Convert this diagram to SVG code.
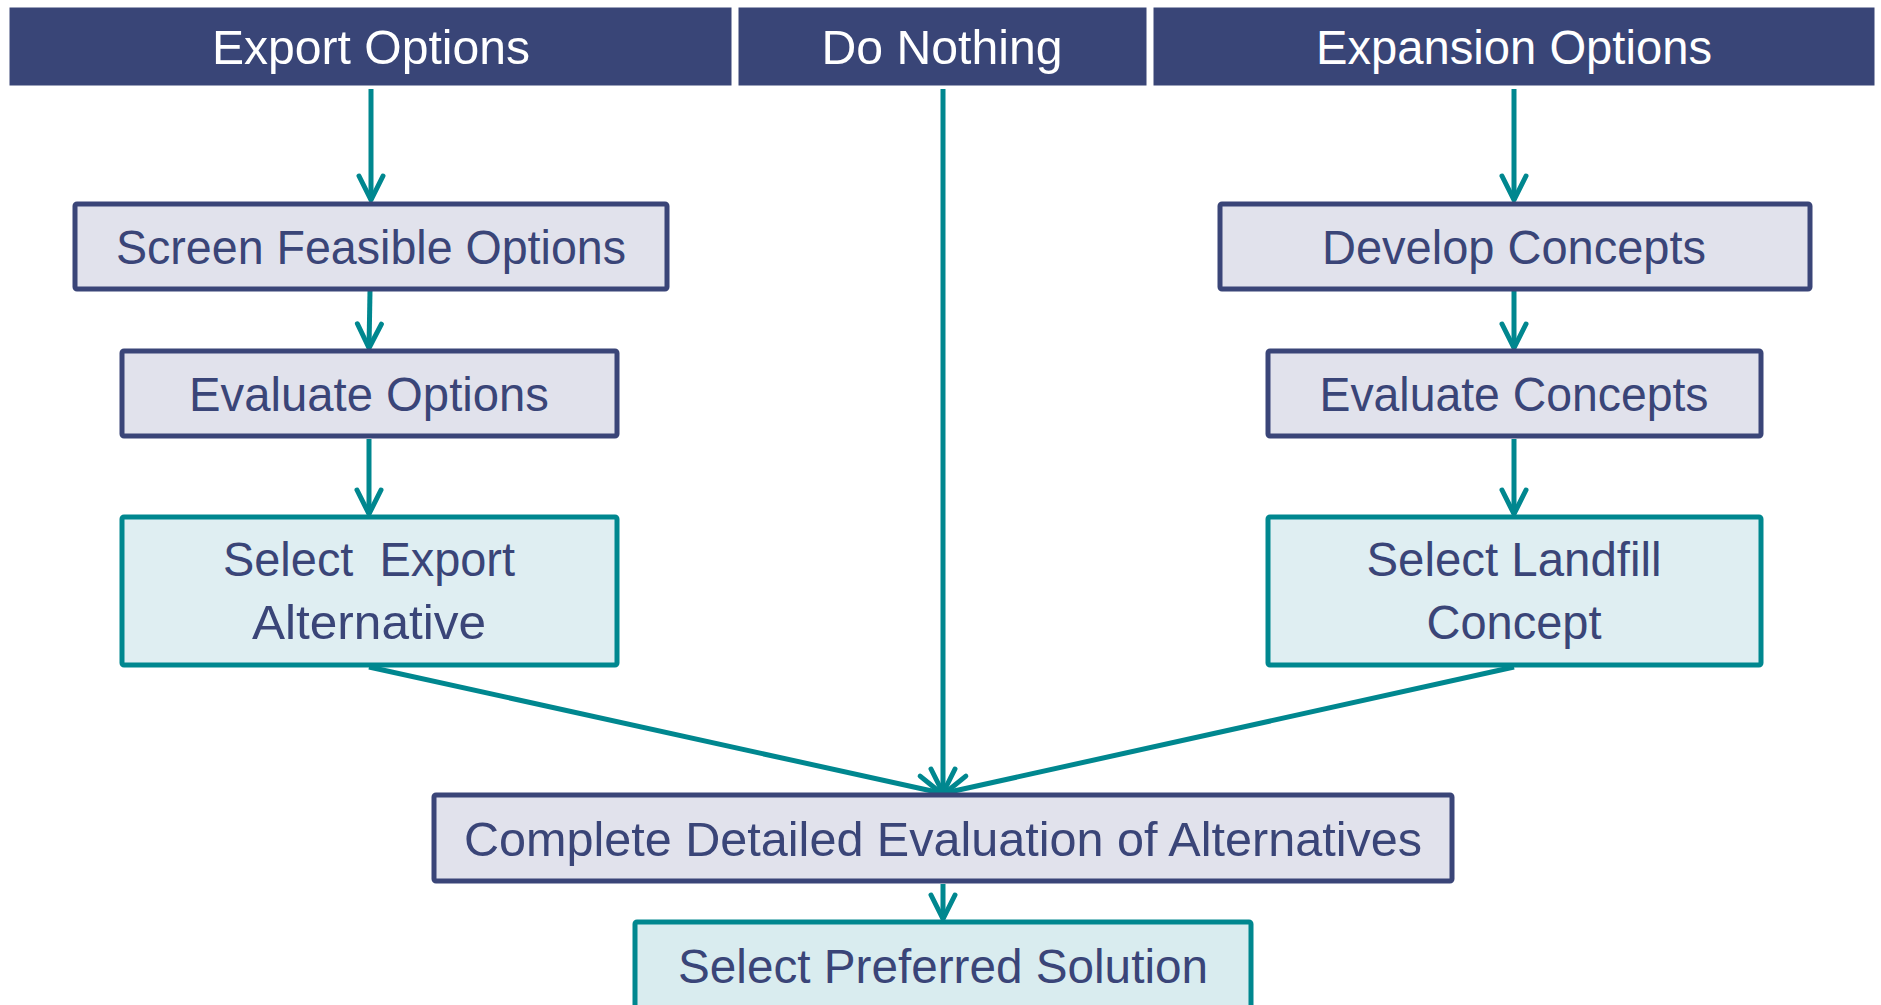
<svg xmlns="http://www.w3.org/2000/svg" width="1881" height="1005" viewBox="0 0 1881 1005">
<style>
.hdr{fill:#394577;stroke:#ffffff;stroke-width:1}
.ht{fill:#ffffff;font-family:"Liberation Sans",Arial,sans-serif;font-size:48px;text-anchor:middle}
.proc{fill:#E1E2EC;stroke:#3A4578;stroke-width:5}
.sel{fill:#DFEEF2;stroke:#00878F;stroke-width:5}
.nt{fill:#3A4578;font-family:"Liberation Sans",Arial,sans-serif;font-size:48px;text-anchor:middle}
.conn{stroke:#00878F;stroke-width:5;fill:none;marker-end:url(#arr)}
</style>
<defs>
<marker id="arr" markerUnits="userSpaceOnUse" markerWidth="40" markerHeight="40" refX="0" refY="0" orient="auto" overflow="visible">
<path d="M -24 -12 L 0 0 L -24 12" fill="none" stroke="#00878F" stroke-width="5" stroke-linecap="round" stroke-linejoin="round"/>
</marker>
</defs>
<rect width="1881" height="1005" fill="#ffffff"/>
<g id="hdr-export"><rect class="hdr" x="9" y="7" width="723" height="79"/><text class="ht" x="371" y="64" textLength="318" lengthAdjust="spacingAndGlyphs">Export Options</text></g>
<g id="hdr-nothing"><rect class="hdr" x="738" y="7" width="409" height="79"/><text class="ht" x="942" y="64" textLength="241" lengthAdjust="spacingAndGlyphs">Do Nothing</text></g>
<g id="hdr-expansion"><rect class="hdr" x="1153" y="7" width="722" height="79"/><text class="ht" x="1514" y="64" textLength="396" lengthAdjust="spacingAndGlyphs">Expansion Options</text></g>
<g id="connectors">
<line class="conn" x1="371" y1="89" x2="371" y2="200"/>
<line class="conn" x1="370" y1="291" x2="369" y2="348"/>
<line class="conn" x1="369" y1="439" x2="369" y2="514"/>
<line class="conn" x1="943" y1="89" x2="943" y2="793"/>
<line class="conn" x1="1514" y1="89" x2="1514" y2="200"/>
<line class="conn" x1="1514" y1="291" x2="1514" y2="348"/>
<line class="conn" x1="1514" y1="439" x2="1514" y2="514"/>
<line class="conn" x1="369" y1="667" x2="941" y2="793"/>
<line class="conn" x1="1514" y1="667" x2="945" y2="793"/>
<line class="conn" x1="943" y1="884" x2="943" y2="919"/>
</g>
<g id="n-screen"><rect class="proc" x="75" y="204" width="592" height="85" rx="2"/><text class="nt" x="371" y="264" textLength="510" lengthAdjust="spacingAndGlyphs">Screen Feasible Options</text></g>
<g id="n-evalopt"><rect class="proc" x="122" y="351" width="495" height="85" rx="2"/><text class="nt" x="369" y="411" textLength="360" lengthAdjust="spacingAndGlyphs">Evaluate Options</text></g>
<g id="n-selexport"><rect class="sel" x="122" y="517" width="495" height="148" rx="2"/><text class="nt" x="369" y="576" textLength="292" lengthAdjust="spacingAndGlyphs" xml:space="preserve">Select  Export</text><text class="nt" x="369" y="639" textLength="234" lengthAdjust="spacingAndGlyphs">Alternative</text></g>
<g id="n-develop"><rect class="proc" x="1220" y="204" width="590" height="85" rx="2"/><text class="nt" x="1514" y="264" textLength="384" lengthAdjust="spacingAndGlyphs">Develop Concepts</text></g>
<g id="n-evalcon"><rect class="proc" x="1268" y="351" width="493" height="85" rx="2"/><text class="nt" x="1514" y="411" textLength="389" lengthAdjust="spacingAndGlyphs">Evaluate Concepts</text></g>
<g id="n-sellandfill"><rect class="sel" x="1268" y="517" width="493" height="148" rx="2"/><text class="nt" x="1514" y="576" textLength="295" lengthAdjust="spacingAndGlyphs">Select Landfill</text><text class="nt" x="1514" y="639" textLength="175" lengthAdjust="spacingAndGlyphs">Concept</text></g>
<g id="n-complete"><rect class="proc" x="434" y="795" width="1018" height="86" rx="2"/><text class="nt" x="943" y="856" textLength="958" lengthAdjust="spacingAndGlyphs">Complete Detailed Evaluation of Alternatives</text></g>
<g id="n-preferred"><rect class="sel" x="635" y="922" width="616" height="100" rx="2" style="fill:#D9ECEF"/><text class="nt" x="943" y="983" textLength="530" lengthAdjust="spacingAndGlyphs">Select Preferred Solution</text></g>
</svg>
